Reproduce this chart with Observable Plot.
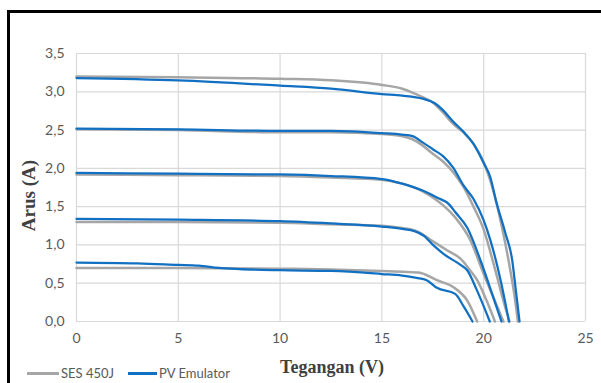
<!DOCTYPE html>
<html>
<head>
<meta charset="utf-8">
<script src="https://cdn.jsdelivr.net/npm/d3@7"></script>
<script src="https://cdn.jsdelivr.net/npm/@observablehq/plot@0.6"></script>
<style>
  html, body { margin: 0; padding: 0; background: #fff; }
  #wrap { position: relative; width: 601px; height: 383px; overflow: hidden; }
  #frame { position: absolute; left: 7px; top: 10px; width: 700px; height: 500px;
           border-top: 3px solid #000; border-left: 3px solid #000; pointer-events: none; }
  #legend { position: absolute; left: 27px; top: 366px; font-family: Lato, sans-serif; line-height: 15px;
            font-size: 13px; color: #595959; display: flex; align-items: center; white-space: nowrap; }
  #legend .sw { display: inline-block; height: 2.5px; margin-right: 2px; }
  #legend .item { display: flex; align-items: center; margin-right: 14px; }
</style>
</head>
<body>
<div id="wrap">
  <div id="chart"></div>
  <div id="frame"></div>
  <div id="legend"></div>
</div>
<script>
// Tick values
const xTicks = [0, 5, 10, 15, 20, 25];
const yTicks = [0, 0.5, 1.0, 1.5, 2.0, 2.5, 3.0, 3.5];

// Series names
const seriesNames = ["SES 450J", "PV Emulator"];
const seriesColors = ["#a6a6a6", "#1170c2"];

// SES 450J curves: [voltage V, current A]
const ses1 = [[0,3.20],[5,3.19],[10,3.17],[12.5,3.15],[15,3.09],[16,3.04],[16.5,2.99],[17,2.93],[17.5,2.86],[18,2.73],[18.5,2.58],[19,2.47],[19.5,2.32],[20,2.08],[20.5,1.68],[21,1.10],[21.3,0.68],[21.5,0.36],[21.68,0]];
const ses2 = [[0,2.51],[5,2.50],[10,2.47],[12.5,2.47],[15,2.45],[16,2.42],[16.5,2.38],[17,2.30],[17.5,2.19],[18,2.09],[18.5,1.95],[19,1.76],[19.5,1.50],[20,1.20],[20.5,0.74],[21,0.24],[21.27,0]];
const ses3 = [[0,1.92],[5,1.91],[10,1.90],[12.5,1.88],[15,1.85],[16,1.80],[17,1.70],[17.5,1.62],[18,1.52],[18.6,1.36],[19.35,1.06],[20,0.62],[20.5,0.30],[20.97,0]];
const ses4 = [[0,1.30],[5,1.30],[10,1.29],[12.5,1.27],[15,1.25],[16,1.22],[16.7,1.18],[17.55,1.04],[18.2,0.93],[18.86,0.82],[19.3,0.68],[19.68,0.54],[20.1,0.30],[20.55,0]];
const ses5 = [[0,0.70],[5,0.70],[10,0.69],[12.5,0.68],[15,0.66],[16,0.65],[16.8,0.64],[17.7,0.54],[18.5,0.45],[19.2,0.27],[19.68,0]];

// PV Emulator curves: [voltage V, current A]
const pv1 = [[0,3.18],[5,3.15],[10,3.08],[12.5,3.04],[15,2.97],[16,2.95],[17,2.91],[17.6,2.85],[18,2.76],[18.5,2.61],[19,2.48],[19.5,2.32],[20,2.07],[20.33,1.88],[20.6,1.58],[21.07,1.15],[21.4,0.80],[21.56,0.45],[21.76,0]];
const pv2 = [[0,2.52],[5,2.51],[10,2.49],[12.5,2.49],[15,2.46],[16,2.44],[16.5,2.42],[17,2.34],[17.5,2.25],[18,2.16],[18.5,2.01],[19,1.78],[19.5,1.60],[20,1.32],[20.33,1.06],[20.83,0.54],[21.24,0]];
const pv3 = [[0,1.94],[5,1.93],[10,1.92],[12.5,1.90],[15,1.86],[16,1.80],[17,1.71],[17.7,1.62],[18.3,1.53],[18.6,1.43],[19.2,1.22],[19.84,0.80],[20.3,0.45],[20.87,0]];
const pv4 = [[0,1.34],[5,1.33],[10,1.31],[12.5,1.28],[15,1.24],[16,1.21],[16.6,1.18],[17.06,1.12],[17.55,0.99],[18.04,0.88],[18.86,0.74],[19.19,0.67],[19.68,0.40],[20.3,0]];
const pv5 = [[0,0.77],[3,0.76],[5,0.74],[6,0.73],[7,0.70],[8,0.685],[10,0.67],[12.5,0.66],[15,0.62],[16,0.60],[16.7,0.57],[17.2,0.54],[17.7,0.44],[18.6,0.36],[19.03,0.19],[19.45,0]];

const sesCurves = [ses1, ses2, ses3, ses4, ses5];
const pvCurves = [pv1, pv2, pv3, pv4, pv5];

function toRows(curves) {
  const rows = [];
  curves.forEach((c, k) => c.forEach(([V, I]) => rows.push({V, I, curve: k})));
  return rows;
}
const sesRows = toRows(sesCurves);
const pvRows = toRows(pvCurves);

const fmt = d => d.toFixed(1).replace(".", ",");

const chart = Plot.plot({
  width: 601,
  height: 383,
  marginLeft: 76,
  marginRight: 16,
  marginTop: 53,
  marginBottom: 62,
  style: {fontFamily: "Lato, sans-serif", fontSize: "14px", color: "#595959", background: "transparent", overflow: "visible"},
  x: {domain: [0, 25]},
  y: {domain: [0, 3.5]},
  marks: [
    Plot.gridX(xTicks, {stroke: "#d9d9d9", strokeOpacity: 1, strokeWidth: 1.2}),
    Plot.gridY(yTicks, {stroke: "#d9d9d9", strokeOpacity: 1, strokeWidth: 1.2}),
    Plot.axisX(xTicks, {tickSize: 0, tickPadding: 12, label: null, tickFormat: d => String(d)}),
    Plot.axisY(yTicks, {tickSize: 0, tickPadding: 12, label: null, tickFormat: fmt}),
    Plot.line(sesRows, {x: "V", y: "I", z: "curve", stroke: seriesColors[0], strokeWidth: 2.5, curve: "monotone-x"}),
    Plot.line(pvRows, {x: "V", y: "I", z: "curve", stroke: seriesColors[1], strokeWidth: 2.25, curve: "monotone-x"}),
    Plot.text(["Arus (A)"], {frameAnchor: "left", dx: -47.5, dy: 8, rotate: -90, textAnchor: "middle", lineAnchor: "middle",
      fontFamily: "Liberation Serif, serif", fontWeight: "bold", fontSize: 19, fill: "#404040"}),
    Plot.text(["Tegangan (V)"], {frameAnchor: "bottom", dx: 1, dy: 45.5, textAnchor: "middle", lineAnchor: "middle",
      fontFamily: "Liberation Serif, serif", fontWeight: "bold", fontSize: 18, fill: "#404040"})
  ]
});
document.getElementById("chart").appendChild(chart);

// Legend
const legend = document.getElementById("legend");
const swWidths = [32, 29];
seriesNames.forEach((name, i) => {
  const item = document.createElement("span");
  item.className = "item";
  const sw = document.createElement("span");
  sw.className = "sw";
  sw.style.width = swWidths[i] + "px";
  sw.style.background = seriesColors[i];
  const t = document.createElement("span");
  t.textContent = name;
  item.appendChild(sw);
  item.appendChild(t);
  legend.appendChild(item);
});
</script>
</body>
</html>
